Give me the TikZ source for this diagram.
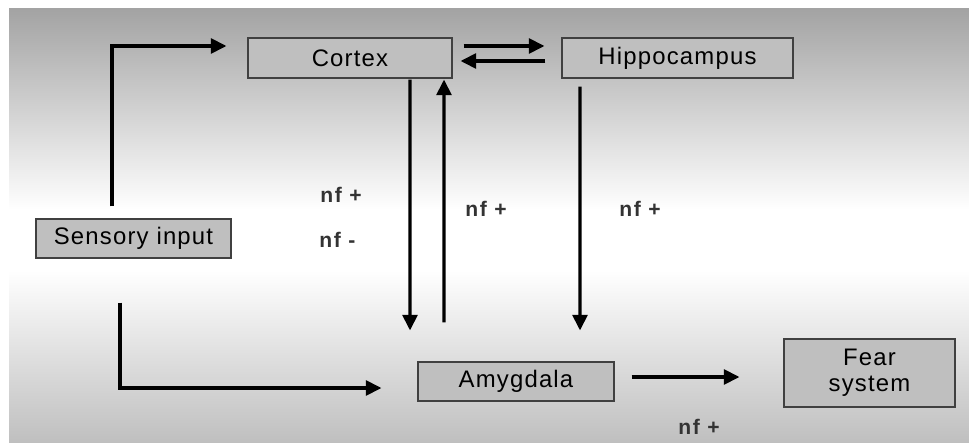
\documentclass[tikz,border=0pt]{standalone}
\usepackage{fontspec}
\setmainfont{Liberation Sans}
\newfontfamily\boxfont[LetterSpace=5]{Liberation Sans}
\newfontfamily\nffont[LetterSpace=8]{Liberation Sans}
\usetikzlibrary{arrows.meta}

\tikzset{
  area/.style={draw=black!75, line width=0.8pt, fill=black!25, inner sep=0pt, align=center,
    font=\boxfont\fontsize{17}{18.5}\selectfont},
  flow/.style={line width=2.3pt, -{Triangle[length=11pt,width=10.5pt]}},
  nf/.style={inner sep=0pt, text=black!80, font=\nffont\bfseries\fontsize{15}{16}\selectfont}
}

\begin{document}
\begin{tikzpicture}
\useasboundingbox (0,0) rectangle (24.225,11.05);
% shaded backdrop
\shade[top color=black!36, bottom color=white] (0.225,5.8) rectangle (24.225,10.825);
\fill[white] (0.225,4.3) rectangle (24.225,5.8);
\shade[top color=white, bottom color=black!25] (0.225,0) rectangle (24.225,4.3);
%
\node[area, minimum width=5.1cm, minimum height=1cm] (cortex) at (8.75,9.6) {Cortex};
\node[area, minimum width=5.775cm, minimum height=1cm] (hippo) at (16.9375,9.6) {Hippocampus};
\node[area, minimum width=4.875cm, minimum height=0.975cm] (sensory) at (3.3375,5.0875) {Sensory input};
\node[area, minimum width=4.9cm, minimum height=0.975cm] (amygdala) at (12.9,1.5125) {Amygdala};
\node[area, minimum width=4.275cm, minimum height=1.7cm] (fear) at (21.7375,1.725) {Fear\\system};
%
\draw[flow] ([xshift=-0.5375cm,yshift=0.3cm]sensory.north) |- ([xshift=-0.525cm,yshift=0.3cm]cortex.west);
\draw[flow] ([xshift=-0.3375cm,yshift=-1.1cm]sensory.south) |- ([xshift=-0.9cm,yshift=-0.1625cm]amygdala.west);
%
\draw[flow] ([xshift=0.275cm,yshift=0.3cm]cortex.east) -- ([xshift=-0.425cm,yshift=0.3cm]hippo.west);
\draw[flow] ([xshift=-0.4cm,yshift=-0.075cm]hippo.west) -- ([xshift=0.2cm,yshift=-0.075cm]cortex.east);
%
\draw[flow] ([xshift=1.5cm,yshift=-0.025cm]cortex.south) -- ([xshift=-2.65cm,yshift=0.775cm]amygdala.north);
\draw[flow] ([xshift=-1.8cm,yshift=0.975cm]amygdala.north) -- ([xshift=2.35cm,yshift=-0.025cm]cortex.south);
\draw[flow] ([xshift=-2.4375cm,yshift=-0.2cm]hippo.south) -- ([xshift=1.6cm,yshift=0.775cm]amygdala.north);
%
\draw[flow] ([xshift=0.425cm,yshift=0.1125cm]amygdala.east) -- ([xshift=-1.1cm,yshift=-0.1cm]fear.west);
%
\node[nf] (nfcortexdown) at (8.525,6.175) {nf +};
\node[nf, anchor=west] (nfcortexneg) at (7.975,5.05) {nf -};
\node[nf] (nfcortexup) at (12.15,5.825) {nf +};
\node[nf] (nfhippo) at (16.0,5.825) {nf +};
\node[nf] (nffear) at (17.475,0.375) {nf +};
\end{tikzpicture}
\end{document}
